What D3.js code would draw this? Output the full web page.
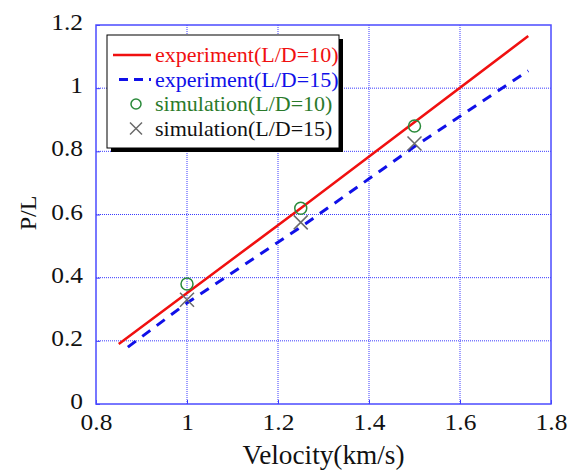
<!DOCTYPE html>
<html>
<head>
<meta charset="utf-8">
<script src="https://cdn.jsdelivr.net/npm/d3@7"></script>
<style>
  body { margin: 0; background: #fff; }
  text { font-family: "Liberation Serif", "Times New Roman", serif; }
</style>
</head>
<body>
<div id="chart"></div>
<script>
// experiment curves
const expX10 = [0.85, 1.25, 1.75];
const expY10 = [0.19, 0.62, 1.165];
const expX15 = [0.87, 1.0, 1.25, 1.5, 1.75];
const expY15 = [0.18, 0.32, 0.56, 0.815, 1.055];
// simulation points
const simX = [1.0, 1.25, 1.5];
const simY10 = [0.38, 0.62, 0.88];
const simY15 = [0.33, 0.575, 0.825];
// ticks
const xTicks = [0.8, 1, 1.2, 1.4, 1.6, 1.8];
const yTicks = [0, 0.2, 0.4, 0.6, 0.8, 1, 1.2];
const legendLabels = ["experiment(L/D=10)", "experiment(L/D=15)", "simulation(L/D=10)", "simulation(L/D=15)"];

const width = 576, height = 471;
const margin = {left: 96, right: 25, top: 25, bottom: 67};

const svg = d3.select("#chart").append("svg")
    .attr("width", width)
    .attr("height", height);

const x = d3.scaleLinear().domain([0.8, 1.8]).range([margin.left, width - margin.right]);
const y = d3.scaleLinear().domain([0, 1.2]).range([height - margin.bottom, margin.top]);

const gridColor = "#3a3aff";

// widen text a bit, the original font runs wider than Liberation Serif
function stretch(sel, k) {
    sel.each(function () {
        const w = this.getComputedTextLength();
        d3.select(this).attr("textLength", w * k).attr("lengthAdjust", "spacingAndGlyphs");
    });
}

// dotted grid
svg.append("g").selectAll("line").data(xTicks.slice(1, -1)).join("line")
    .attr("x1", d => x(d)).attr("x2", d => x(d))
    .attr("y1", y(0)).attr("y2", y(1.2))
    .attr("stroke", gridColor).attr("stroke-width", 1).attr("stroke-dasharray", "1,1");
svg.append("g").selectAll("line").data(yTicks.slice(1, -1)).join("line")
    .attr("y1", d => y(d)).attr("y2", d => y(d))
    .attr("x1", x(0.8)).attr("x2", x(1.8))
    .attr("stroke", gridColor).attr("stroke-width", 1).attr("stroke-dasharray", "1,1");

// axes (ticks inward, labels outside)
const xAxis = svg.append("g")
    .attr("transform", `translate(0,${y(0)})`)
    .call(d3.axisBottom(x).tickValues(xTicks).tickSize(-4).tickPadding(10).tickFormat(d3.format("")));
const yAxis = svg.append("g")
    .attr("transform", `translate(${x(0.8)},0)`)
    .call(d3.axisLeft(y).tickValues(yTicks).tickSize(-4).tickPadding(13).tickFormat(d3.format("")));
[xAxis, yAxis].forEach(g => {
    g.select(".domain").remove();
    g.selectAll(".tick line").attr("stroke", gridColor);
    g.selectAll(".tick text").attr("fill", "#111").style("font-size", "22.5px")
        .style("font-family", "'Liberation Serif', serif");
    stretch(g.selectAll(".tick text"), 1.13);
});
xAxis.selectAll(".tick text").attr("dy", "0.71em");
yAxis.selectAll(".tick text").attr("dy", "0.2em");

// plot frame
svg.append("rect")
    .attr("x", x(0.8)).attr("y", y(1.2))
    .attr("width", x(1.8) - x(0.8)).attr("height", y(0) - y(1.2))
    .attr("fill", "none").attr("stroke", "#4b4bff").attr("stroke-width", 1.5);

// lines
const line = d3.line().x(d => x(d[0])).y(d => y(d[1]));
svg.append("path")
    .datum(expX10.map((v, i) => [v, expY10[i]]))
    .attr("d", line).attr("fill", "none")
    .attr("stroke", "#f01010").attr("stroke-width", 2.5);
svg.append("path")
    .datum(expX15.map((v, i) => [v, expY15[i]]))
    .attr("d", line).attr("fill", "none")
    .attr("stroke", "#1010e8").attr("stroke-width", 3).attr("stroke-dasharray", "10,8");

// simulation markers
svg.append("g").selectAll("circle").data(simX).join("circle")
    .attr("cx", d => x(d)).attr("cy", (d, i) => y(simY10[i])).attr("r", 6)
    .attr("fill", "none").attr("stroke", "#2a8a3a").attr("stroke-width", 1.5);
const cross = "M-7,-7L7,7M-7,7L7,-7";
svg.append("g").selectAll("path").data(simX).join("path")
    .attr("transform", (d, i) => `translate(${x(d)},${y(simY15[i])})`)
    .attr("d", cross).attr("stroke", "#6a6a6a").attr("stroke-width", 1.5);

// axis titles
svg.append("text")
    .attr("x", (x(0.8) + x(1.8)) / 2).attr("y", 464)
    .attr("text-anchor", "middle").style("font-size", "27px").attr("fill", "#111")
    .attr("textLength", 162).attr("lengthAdjust", "spacingAndGlyphs")
    .text("Velocity(km/s)");
svg.append("text")
    .attr("transform", `translate(36,213) rotate(-90)`)
    .attr("text-anchor", "middle").style("font-size", "24px").attr("fill", "#111")
    .text("P/L");

// legend
const lg = svg.append("g").attr("transform", "translate(107,35)");
const lw = 232, lh = 113;
lg.append("rect").attr("x", 4).attr("y", 4).attr("width", lw).attr("height", lh).attr("fill", "#000");
lg.append("rect").attr("width", lw).attr("height", lh).attr("fill", "#fff").attr("stroke", "#000").attr("stroke-width", 1);
const legendColors = ["#f01010", "#1010e8", "#2a7a2a", "#111"];
legendLabels.forEach((lab, i) => {
    const cy = 20 + i * 24.5;
    if (i === 0) {
        lg.append("line").attr("x1", 6).attr("x2", 44).attr("y1", cy).attr("y2", cy)
            .attr("stroke", legendColors[0]).attr("stroke-width", 2.5);
    } else if (i === 1) {
        lg.append("line").attr("x1", 12).attr("x2", 44).attr("y1", cy).attr("y2", cy)
            .attr("stroke", legendColors[1]).attr("stroke-width", 3).attr("stroke-dasharray", "9,6");
    } else if (i === 2) {
        lg.append("circle").attr("cx", 29).attr("cy", cy).attr("r", 5)
            .attr("fill", "none").attr("stroke", "#2a8a3a").attr("stroke-width", 1.5);
    } else {
        lg.append("path").attr("transform", `translate(29,${cy})`).attr("d", "M-6,-6L6,6M-6,6L6,-6")
            .attr("stroke", "#6a6a6a").attr("stroke-width", 1.5);
    }
    lg.append("text").attr("x", 48).attr("y", cy).attr("dy", "0.33em")
        .style("font-size", "22px").attr("fill", legendColors[i]).text(lab);
});
</script>
</body>
</html>
